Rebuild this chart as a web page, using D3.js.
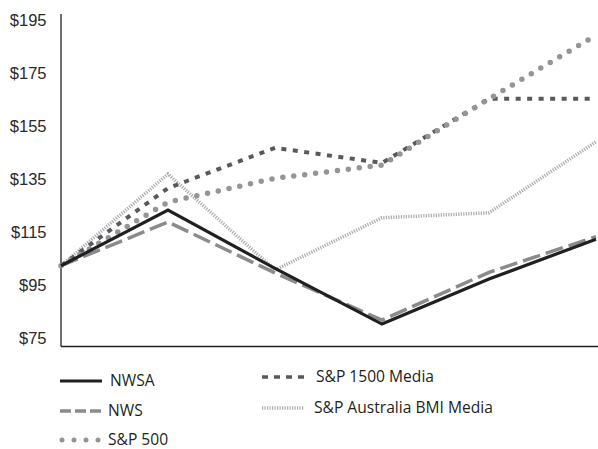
<!DOCTYPE html>
<html><head><meta charset="utf-8">
<script src="https://cdn.jsdelivr.net/npm/d3@7"></script>
<style>body{margin:0;background:#fff}svg{display:block}</style>
</head><body>
<script>
const periods = [0, 1, 2, 3, 4, 5];
const tickValues = [75, 95, 115, 135, 155, 175, 195];
const nwsa = [100, 121, 99, 78, 95, 110];
const nws = [100, 116.5, 97.3, 79.5, 97.5, 111];
const sp500 = [100, 124, 133, 138, 163, 187];
const sp1500Media = [100, 129.3, 144.5, 138.8, 163, 163];
const spAusMedia = [100, 134.6, 98.4, 118.1, 120, 146.8];

const series = [
  {name: "S&P Australia BMI Media", values: spAusMedia, color: "#a9abae", width: 3.5, dash: "1.2 1.3", cap: "butt", legendDash: "1.2 1.3"},
  {name: "S&P 1500 Media", values: sp1500Media, color: "#58595b", width: 4, dash: "5 6.5", cap: "butt", legendDash: "6 6"},
  {name: "S&P 500", values: sp500, color: "#939598", width: 5.5, dash: "0 11", cap: "round", legendDash: "0 12"},
  {name: "NWS", values: nws, color: "#8a8b8d", width: 3.5, dash: "18 6", cap: "butt", legendDash: "11 4"},
  {name: "NWSA", values: nwsa, color: "#231f20", width: 3.2, dash: null, cap: "butt", legendDash: null}
];

const W = 598, H = 449;
const svg = d3.select("body").append("svg").attr("width", W).attr("height", H);

const x = d3.scalePoint().domain(periods).range([61, 596]);
const y = d3.scaleLinear().domain([75, 195]).range([332, 14]);

// axes
const yAxis = d3.axisLeft(y).tickValues(tickValues).tickSize(0).tickPadding(0)
  .tickFormat(d => "$" + d);
const gy = svg.append("g").attr("transform", "translate(46.5,0)").call(yAxis);
gy.select(".domain").remove();
gy.selectAll("text").attr("dy", "0.32em").attr("y", 6)
  .style("font-family", "'Liberation Sans', Arial, sans-serif")
  .style("font-size", "16.5px").attr("fill", "#2a2a2a");

svg.append("line").attr("x1", 61).attr("x2", 61).attr("y1", 14).attr("y2", 346.5)
  .attr("stroke", "#231f20").attr("stroke-width", 1.3);
svg.append("line").attr("x1", 61).attr("x2", 598).attr("y1", 346.5).attr("y2", 346.5)
  .attr("stroke", "#231f20").attr("stroke-width", 1.3);

const line = d3.line().x((d, i) => x(periods[i])).y(d => y(d));

series.forEach(s => {
  svg.append("path").datum(s.values).attr("d", line)
    .attr("fill", "none").attr("stroke", s.color).attr("stroke-width", s.width)
    .attr("stroke-dasharray", s.dash).attr("stroke-linecap", s.cap)
    .attr("stroke-linejoin", "miter");
});

// legend
const legendPos = {
  "NWSA": {x: 60, y: 381, len: 42, tx: 110},
  "NWS": {x: 60, y: 411, len: 42, tx: 108},
  "S&P 500": {x: 62, y: 440, len: 37, tx: 108},
  "S&P 1500 Media": {x: 262, y: 377, len: 43, tx: 316},
  "S&P Australia BMI Media": {x: 262, y: 408, len: 42, tx: 314}
};
series.forEach(s => {
  const p = legendPos[s.name];
  svg.append("line").attr("x1", p.x).attr("x2", p.x + p.len).attr("y1", p.y).attr("y2", p.y)
    .attr("stroke", s.color).attr("stroke-width", s.name === "S&P 500" ? 5 : (s.name === "NWSA" ? 3.2 : 3.5))
    .attr("stroke-dasharray", s.legendDash).attr("stroke-linecap", s.cap);
  svg.append("text").attr("x", p.tx).attr("y", p.y).attr("dy", "0.35em")
    .style("font-family", "'Open Sans', 'Noto Sans', sans-serif").style("font-size", "15.6px")
    .attr("fill", "#231f20").text(s.name);
});
</script>
</body></html>
